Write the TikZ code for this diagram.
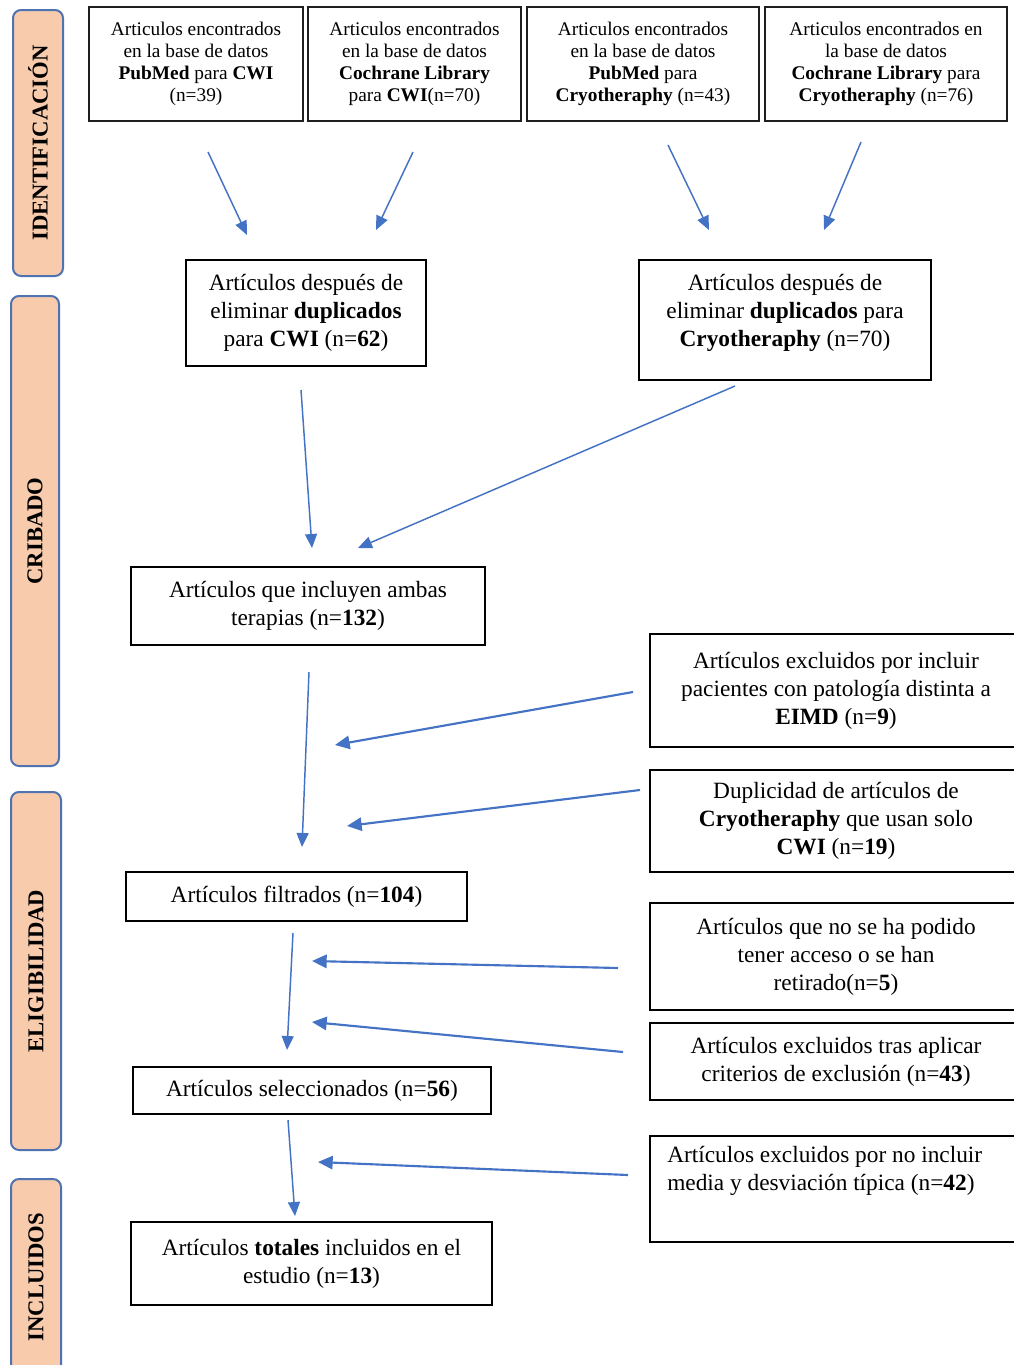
\documentclass[tikz,border=0pt]{standalone}
\usepackage{fontspec}
\setmainfont{Liberation Serif}
\usetikzlibrary{arrows.meta}
\definecolor{arrowblue}{HTML}{4472C4}
\definecolor{peach}{HTML}{F8CBAD}
\definecolor{labborder}{HTML}{4F72B0}
\definecolor{boxline}{HTML}{1E1E1E}
\tikzset{
  sz/.style 2 args={minimum width=#1*0.75pt, minimum height=#2*0.75pt},
  topbox/.style={draw=boxline, line width=1.7pt, inner sep=0pt, align=center,
    font={\fontsize{14.5}{16.5}\selectfont}},
  box/.style={draw=black, line width=1.4pt, inner sep=0pt, align=center,
    font={\fontsize{17.5}{21}\selectfont}},
  boxtxt/.style={inner sep=0pt, align=center, font={\fontsize{17.5}{21}\selectfont}},
  sidelab/.style={draw=labborder, fill=peach, line width=1.5pt, rounded corners=6pt,
    rotate=90, inner sep=0pt, font={\fontsize{17}{20}\selectfont\bfseries}},
  flow/.style={draw=arrowblue, line width=1.1pt, -{Triangle[length=10.5pt,width=9pt]}},
  sideflow/.style={draw=arrowblue, line width=1.6pt, -{Triangle[length=11pt,width=10pt]}},
}
\begin{document}
\begin{tikzpicture}[x=0.75pt, y=-0.75pt]
\useasboundingbox[fill=white] (0,0) rectangle (1014,1365);

% side labels
\node (lid) [sidelab, sz={266}{50}] at (38,143) {IDENTIFICACIÓN};
\node (lcr) [sidelab, sz={470}{48}] at (35,531) {CRIBADO};
\node (lel) [sidelab, sz={358}{50}] at (36,971) {ELIGIBILIDAD};
\node (lin) [sidelab, sz={196}{50}] at (36,1277) {INCLUIDOS};

% top boxes
\node (pmcwi) [topbox, sz={214}{114}] at (196,64)
  {Articulos encontrados\\en la base de datos\\\textbf{PubMed} para \textbf{CWI}\\(n=39)};
\node (cocwi) [topbox, sz={213}{114}] at (414.5,64)
  {Articulos encontrados\\en la base de datos\\\textbf{Cochrane Library}\\para \textbf{CWI}(n=70)};
\node (pmcry) [topbox, sz={232}{114}] at (643,64)
  {Articulos encontrados\\en la base de datos\\\textbf{PubMed} para\\\textbf{Cryotheraphy} (n=43)};
\node (cocry) [topbox, sz={242}{114}] at (886,64)
  {Articulos encontrados en\\la base de datos\\\textbf{Cochrane Library} para\\\textbf{Cryotheraphy} (n=76)};

% after duplicates
\node (dupcwi) [box, sz={240}{106}] at (306,313)
  {Artículos después de\\eliminar \textbf{duplicados}\\para \textbf{CWI} (n=\textbf{62})};
\node (dupcry) [box, sz={292}{120}] at (785,320) {};
\node (dupcryT) [boxtxt] at (785,313)
  {Artículos después de\\eliminar \textbf{duplicados} para\\\textbf{Cryotheraphy} (n=70)};

% combined
\node (ambas) [box, sz={354}{78}] at (308,606)
  {Artículos que incluyen ambas\\terapias (n=\textbf{132})};

% exclusions right
\node (excl1) [box, sz={372}{113}] at (836,690.5)
  {Artículos excluidos por incluir\\pacientes con patología distinta a\\\textbf{EIMD} (n=\textbf{9})};
\node (dup2) [box, sz={372}{102}] at (836,821)
  {Duplicidad de artículos de\\\textbf{Cryotheraphy} que usan solo\\\textbf{CWI} (n=\textbf{19})};
\node (noacc) [box, sz={372}{107}] at (836,956.5)
  {Artículos que no se ha podido\\tener acceso o se han\\retirado(n=\textbf{5})};
\node (tras) [box, sz={372}{77}] at (836,1061.5)
  {Artículos excluidos tras aplicar\\criterios de exclusión (n=\textbf{43})};
\node (media) [box, sz={372}{106}] at (836,1189) {};
\node (mediaT) [boxtxt, align=left, anchor=north west] at (667,1146)
  {Artículos excluidos por no incluir\\media y desviación típica (n=\textbf{42})};

% main column
\node (filt) [box, sz={341}{49}] at (296.5,896.5)
  {Artículos filtrados (n=\textbf{104})};
\node (selec) [box, sz={358}{47}] at (312,1090.5)
  {Artículos seleccionados (n=\textbf{56})};
\node (total) [box, sz={361}{83}] at (311.5,1263.5)
  {Artículos \textbf{totales} incluidos en el\\estudio (n=\textbf{13})};

% arrow endpoints
\coordinate (a1s) at (208,152); \coordinate (a1e) at (247,235);
\coordinate (a2s) at (413,152); \coordinate (a2e) at (376,230);
\coordinate (a3s) at (668,145); \coordinate (a3e) at (709,230);
\coordinate (a4s) at (861,142); \coordinate (a4e) at (824,230);
\coordinate (b1s) at (301,390); \coordinate (b1e) at (312,548);
\coordinate (b2s) at (735,386); \coordinate (b2e) at (358,548);
\coordinate (c0s) at (309,672); \coordinate (c0e) at (302,847);
\coordinate (c1s) at (633,692); \coordinate (c1e) at (335,745);
\coordinate (c2s) at (640,790); \coordinate (c2e) at (347,826);
\coordinate (d0s) at (293,933); \coordinate (d0e) at (287,1050);
\coordinate (d1s) at (618,968); \coordinate (d1e) at (312,961);
\coordinate (d2s) at (623,1052); \coordinate (d2e) at (312,1022);
\coordinate (e0s) at (288,1120); \coordinate (e0e) at (295,1216);
\coordinate (e1s) at (628,1175); \coordinate (e1e) at (318,1162);

\draw[flow] (a1s) -- (a1e);
\draw[flow] (a2s) -- (a2e);
\draw[flow] (a3s) -- (a3e);
\draw[flow] (a4s) -- (a4e);
\draw[flow] (b1s) -- (b1e);
\draw[flow] (b2s) -- (b2e);
\draw[flow] (c0s) -- (c0e);
\draw[sideflow] (c1s) -- (c1e);
\draw[sideflow] (c2s) -- (c2e);
\draw[flow] (d0s) -- (d0e);
\draw[sideflow] (d1s) -- (d1e);
\draw[sideflow] (d2s) -- (d2e);
\draw[flow] (e0s) -- (e0e);
\draw[sideflow] (e1s) -- (e1e);
\end{tikzpicture}
\end{document}
